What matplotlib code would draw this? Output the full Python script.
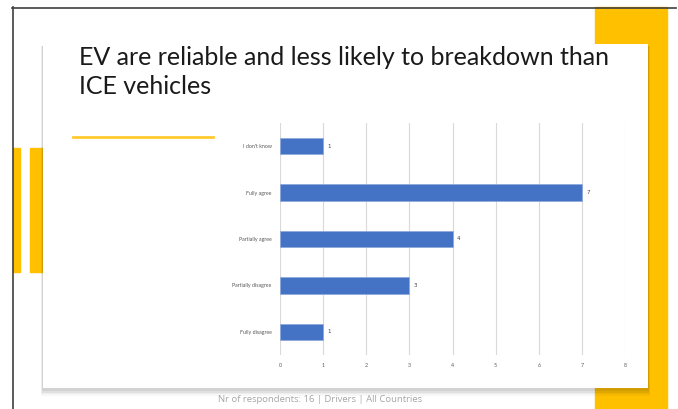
import matplotlib
matplotlib.use("Agg")
import matplotlib.pyplot as plt
from matplotlib.patches import Rectangle

W, H = 678, 409

categories = ["Fully disagree", "Partially disagree", "Partially agree", "Fully agree", "I don't know"]
counts = [1, 3, 4, 7, 1]
x_ticks = [0, 1, 2, 3, 4, 5, 6, 7, 8]

title = "EV are reliable and less likely to breakdown than\nICE vehicles"
footer = "Nr of respondents: 16 | Drivers | All Countries"

YELLOW = "#FFC000"
BLUE = "#4472C4"

fig = plt.figure(figsize=(W / 100, H / 100), dpi=100)

# background slide, drawn in pixel coordinates
bg = fig.add_axes([0, 0, 1, 1])
bg.set_xlim(0, W)
bg.set_ylim(H, 0)
bg.axis("off")

# yellow decoration
bg.add_patch(Rectangle((595, 7), 72, 402, color=YELLOW, zorder=1))
bg.add_patch(Rectangle((13, 148), 7, 124, color=YELLOW, zorder=1))
bg.add_patch(Rectangle((30, 148), 13, 124, color=YELLOW, zorder=1))

# card shadow, mostly below the card
for i, a in enumerate([0.03, 0.04, 0.05, 0.06]):
    d = 7 - i * 1.6
    bg.add_patch(Rectangle((43 - d * 0.3, 46), 605 + d * 0.6, 343 + d,
                           color="black", alpha=a, lw=0, zorder=2))
bg.add_patch(Rectangle((43, 44), 605, 344, color="white", lw=0, zorder=3))

# frame lines
bg.plot([12.5, 12.5], [7, H], color="#404040", lw=1.2, zorder=4)
bg.plot([12, 676], [7.5, 7.5], color="#404040", lw=1.2, zorder=4)

bg.text(79, 46, title, fontsize=18, family="Lato", color="#1a1a1a",
        va="top", ha="left", linespacing=1.32, zorder=5)
bg.plot([73, 213], [137, 137], color="#FFCB2E", lw=2, zorder=5)
bg.text(218, 400, footer, fontsize=6.8, family="Open Sans", color="#A6A6A6",
        va="center", ha="left", zorder=5)

# chart
ax = fig.add_axes([280 / W, 1 - 355 / H, 345 / W, 232 / H])
ax.patch.set_alpha(0)
y = range(len(categories))
ax.barh(y, counts, height=0.35, color=BLUE, edgecolor="#8FAADC", lw=0.6, zorder=3)
for yi, v in zip(y, counts):
    ax.text(v + 0.1, yi, str(v), fontsize=4, color="#404040", va="center", ha="left")
ax.set_xlim(0, 8)
ax.set_ylim(-0.5, len(categories) - 0.5)
ax.set_xticks(x_ticks)
ax.set_yticks(list(y))
ax.set_yticklabels(categories)
ax.tick_params(axis="both", length=0, labelsize=3.8, labelcolor="#595959")
ax.tick_params(axis="x", pad=6)
ax.tick_params(axis="y", pad=6)
for lab in ax.get_xticklabels() + ax.get_yticklabels():
    lab.set_family("Lato")
ax.grid(axis="x", color="#D9D9D9", lw=0.8, zorder=0)
for s in ax.spines.values():
    s.set_visible(False)

fig.savefig("out.png", dpi=100)
